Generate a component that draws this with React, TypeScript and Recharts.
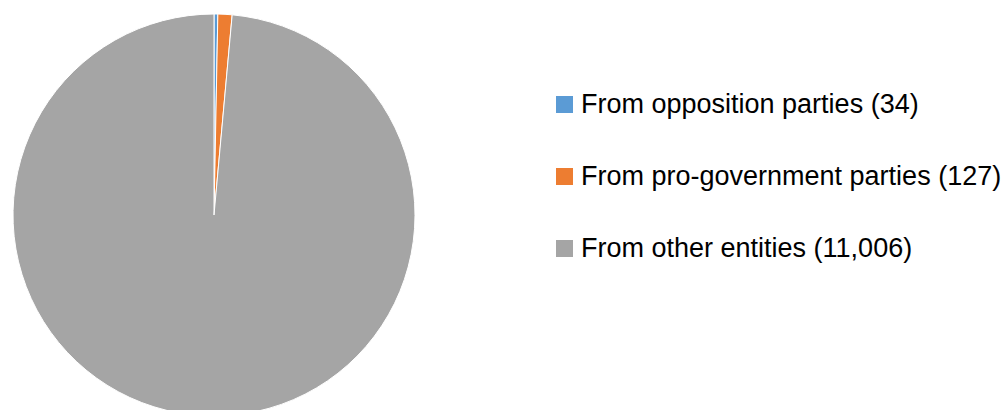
import { PieChart, Pie, Cell, Legend } from "recharts";

const SOURCES = [
  "From opposition parties",
  "From pro-government parties",
  "From other entities",
];
const COUNTS = [34, 127, 11006];
const COLORS = ["#5b9bd5", "#ed7d31", "#a5a5a5"];

const data = SOURCES.map((name, i) => ({ name, value: COUNTS[i] }));

function LegendList() {
  return (
    <ul style={{ margin: 0, padding: 0, listStyle: "none" }}>
      {SOURCES.map((name, i) => (
        <li
          key={name}
          style={{ height: 72, display: "flex", alignItems: "center" }}
        >
          <span
            style={{
              width: 17,
              height: 17,
              background: COLORS[i],
              marginRight: 8,
              flex: "none",
            }}
          />
          <span
            style={{
              fontFamily: "'Liberation Sans', Arial, sans-serif",
              fontSize: 27,
              color: "#000",
              whiteSpace: "nowrap",
              lineHeight: "27px",
            }}
          >
            {name} ({COUNTS[i].toLocaleString("en-US")})
          </span>
        </li>
      ))}
    </ul>
  );
}

export default function App() {
  return (
    <div style={{ position: "absolute", left: 0, top: 0, width: 1007, height: 410, background: "#fff" }}>
      <PieChart
        width={1007}
        height={410}
        margin={{ top: 0, right: 0, bottom: 0, left: 0 }}
      >
        <Pie
          data={data}
          dataKey="value"
          nameKey="name"
          cx={214}
          cy={215}
          outerRadius={201}
          startAngle={90}
          endAngle={-270}
          stroke="#fff"
          strokeWidth={1}
          isAnimationActive={false}
        >
          {data.map((d, i) => (
            <Cell key={d.name} fill={COLORS[i]} />
          ))}
        </Pie>
        <Legend
          layout="vertical"
          align="right"
          verticalAlign="top"
          content={() => <LegendList />}
          wrapperStyle={{ left: 556, top: 68, width: 451, right: "auto" }}
        />
      </PieChart>
    </div>
  );
}
